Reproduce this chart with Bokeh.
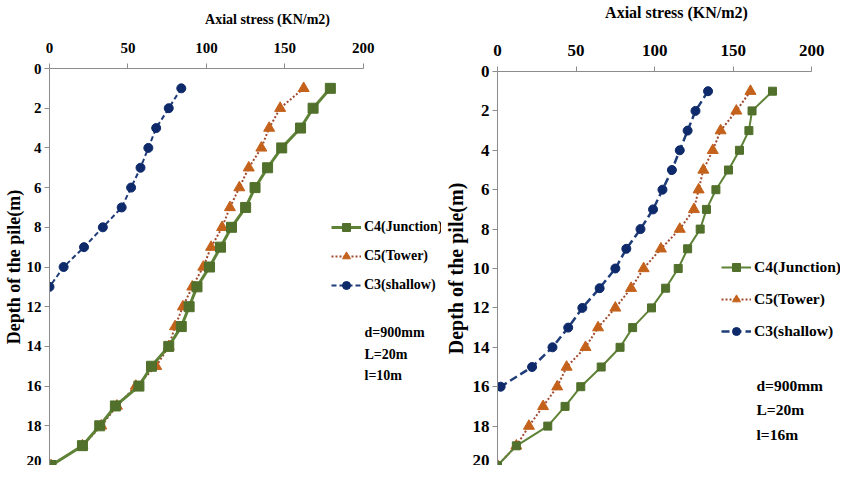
from bokeh.plotting import figure
from bokeh.models import Range1d, FixedTicker, Label, Legend, LegendItem
from bokeh.layouts import row, column
from bokeh.embed import file_html
from bokeh.resources import INLINE

# ---------------- data ----------------
depth_20 = list(range(1, 21))

left_c3_depth = list(range(1, 12))
left_c3 = [84, 76, 68, 63, 58, 52, 46, 34, 22, 9, 0]
left_c5 = [162, 147, 140, 135, 127, 121, 115, 110, 103, 98, 91, 85, 80, 76, 68, 55, 43, 33, 21, 1]
left_c4 = [179, 168, 160, 148, 139, 131, 125, 116, 109, 102, 94, 89, 84, 76, 65, 57, 42, 32, 21, 1]

right_c3_depth = list(range(1, 17))
right_c3 = [134, 126, 121, 116, 111, 105, 99, 91, 82, 75, 65, 54, 45, 35, 22, 2]
right_c5 = [161, 152, 142, 137, 131, 128, 125, 116, 104, 93, 85, 75, 64, 56, 44, 38, 29, 20, 12, 0]
right_c4 = [175, 162, 160, 154, 147, 139, 133, 129, 121, 115, 107, 98, 86, 78, 66, 53, 43, 32, 12, 0]

x_ticks = [0, 50, 100, 150, 200]
y_ticks = [0, 2, 4, 6, 8, 10, 12, 14, 16, 18, 20]

series_names = ["C4(Junction)", "C5(Tower)", "C3(shallow)"]
x_title = "Axial stress (KN/m2)"
y_title = "Depth of the pile(m)"
left_notes = ["d=900mm", "L=20m", "l=10m"]
right_notes = ["d=900mm", "L=20m", "l=16m"]

FONT = "Liberation Serif"
GREEN_LINE = "#5E8236"
GREEN_MARK = "#51702B"
ORANGE_LINE = "#A04A2E"
ORANGE_MARK = "#C4621C"
BLUE_LINE = "#1F3C78"
BLUE_MARK = "#0E2A6A"
AXIS = "#8C8C8C"

TITLE_H = 30
TOTAL_H = 465


def make_title(width, cx, cy, fs):
    t = figure(width=width, height=TITLE_H, output_backend="svg", toolbar_location=None,
               x_axis_type=None, y_axis_type=None,
               x_range=Range1d(0, 1), y_range=Range1d(0, 1),
               min_border=0)
    t.outline_line_color = None
    t.grid.visible = False
    t.add_layout(Label(x=cx, y=cy, x_units="screen", y_units="screen",
                       text=x_title, text_font=FONT, text_font_style="bold",
                       text_font_size=f"{fs}px", text_align="center",
                       text_baseline="middle", text_color="black"))
    return t


def make_chart(width, left_border, top_border, c3_depth, c3, c5, c4,
               notes, tick_fs, ylab_fs, leg_fs,
               leg_loc, leg_spacing, note_x, note_ys, green_w, sq, tri, circ,
               blue_dash, blue_w, ylab_standoff):
    height = TOTAL_H - TITLE_H
    frame_w = width - left_border
    x_end = frame_w / (317.0 / 200.0)
    p = figure(width=width, height=height, output_backend="svg",
               toolbar_location=None, x_axis_location="above",
               x_range=Range1d(0, x_end), y_range=Range1d(20, 0),
               min_border_left=left_border, min_border_top=top_border - TITLE_H,
               min_border_bottom=0, min_border_right=0)
    p.outline_line_color = None
    p.grid.visible = False
    p.background_fill_color = "white"
    p.border_fill_color = "white"

    xa = p.xaxis[0]
    xa.bounds = (0, 200)
    xa.ticker = FixedTicker(ticks=x_ticks)
    ya = p.yaxis[0]
    ya.ticker = FixedTicker(ticks=y_ticks)
    ya.axis_label = y_title
    ya.axis_label_text_font = FONT
    ya.axis_label_text_font_style = "bold"
    ya.axis_label_text_font_size = f"{ylab_fs}px"
    ya.axis_label_text_color = "black"
    ya.axis_label_standoff = ylab_standoff
    for ax in (xa, ya):
        ax.axis_line_color = AXIS
        ax.major_tick_line_color = AXIS
        ax.minor_tick_line_color = None
        ax.major_tick_in = 0
        ax.major_tick_out = 5
        ax.major_label_text_font = FONT
        ax.major_label_text_font_style = "bold"
        ax.major_label_text_font_size = f"{tick_fs}px"
        ax.major_label_text_color = "black"
    xa.major_label_standoff = 11
    ya.major_label_standoff = 3

    # series
    r5l = p.line(c5, depth_20, line_color=ORANGE_LINE, line_width=2, line_dash="2 2")
    r5s = p.scatter(c5, depth_20, marker="triangle", size=tri,
                    fill_color=ORANGE_MARK, line_color=ORANGE_MARK)
    r4l = p.line(c4, depth_20, line_color=GREEN_LINE, line_width=green_w)
    r4s = p.scatter(c4, depth_20, marker="square", size=sq,
                    fill_color=GREEN_MARK, line_color=GREEN_MARK)
    r3l = p.line(c3, c3_depth, line_color=BLUE_LINE, line_width=blue_w, line_dash=blue_dash)
    r3s = p.scatter(c3, c3_depth, marker="circle", size=circ,
                    fill_color=BLUE_MARK, line_color=BLUE_MARK)

    legend = Legend(items=[
        LegendItem(label=series_names[0], renderers=[r4l, r4s]),
        LegendItem(label=series_names[1], renderers=[r5l, r5s]),
        LegendItem(label=series_names[2], renderers=[r3l, r3s]),
    ], location=leg_loc)
    legend.background_fill_alpha = 0
    legend.border_line_color = None
    legend.padding = 0
    legend.margin = 0
    legend.spacing = leg_spacing
    legend.glyph_width = 30
    legend.glyph_height = 20
    legend.label_height = 20
    legend.label_standoff = 3
    legend.label_text_font = FONT
    legend.label_text_font_style = "bold"
    legend.label_text_font_size = f"{leg_fs}px"
    legend.label_text_color = "black"
    p.add_layout(legend)

    for txt, yy in zip(notes, note_ys):
        p.add_layout(Label(x=note_x, y=yy, x_units="screen", y_units="screen",
                           text=txt, text_font=FONT, text_font_style="bold",
                           text_font_size=f"{leg_fs}px", text_align="left",
                           text_baseline="middle", text_color="black"))
    return p


left_title = make_title(441, 218, TITLE_H - 19, 14)
left = make_chart(width=441, left_border=45, top_border=68,
                  c3_depth=left_c3_depth, c3=left_c3, c5=left_c5, c4=left_c4,
                  notes=left_notes, tick_fs=15, ylab_fs=18, leg_fs=14,
                  leg_loc=(282, 170), leg_spacing=9,
                  note_x=315, note_ys=[133, 111, 90], green_w=3, sq=10, tri=11, circ=9,
                  blue_dash="5 3", blue_w=2, ylab_standoff=0)
right_title = make_title(399, 179, TITLE_H - 12, 16)
right = make_chart(width=399, left_border=53, top_border=71,
                   c3_depth=right_c3_depth, c3=right_c3, c5=right_c5, c4=right_c4,
                   notes=right_notes, tick_fs=17, ylab_fs=20, leg_fs=15.5,
                   leg_loc=(224, 124), leg_spacing=12,
                   note_x=259, note_ys=[80, 56, 31], green_w=2, sq=8, tri=11, circ=9,
                   blue_dash="8 4", blue_w=2.5, ylab_standoff=3)

layout = row(column(left_title, left), column(right_title, right))
open("out.html", "w").write(file_html(layout, INLINE))
